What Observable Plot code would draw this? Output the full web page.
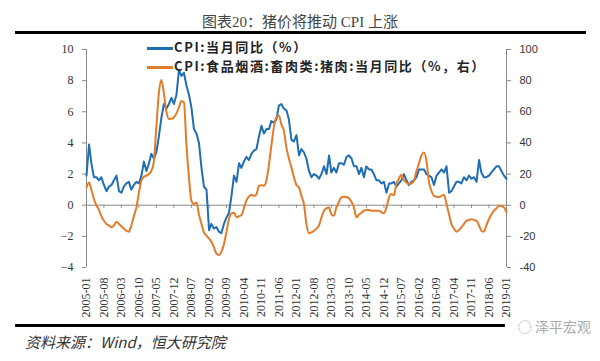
<!DOCTYPE html>
<html><head><meta charset="utf-8">
<script src="https://cdn.jsdelivr.net/npm/d3@7"></script>
<script src="https://cdn.jsdelivr.net/npm/@observablehq/plot@0.6"></script>
<style>
body{margin:0;background:#fff;}
#wrap{position:relative;width:600px;height:361px;overflow:hidden;background:#fff;}
#title{position:absolute;top:10px;left:0;width:600px;text-align:center;font-family:"Liberation Serif","Noto Sans CJK SC",serif;font-size:15px;color:#444;}
.rule{position:absolute;left:15px;width:571px;height:3px;background:#000;}
#chart{position:absolute;top:34px;left:0;}
.leg{position:absolute;left:147px;font-family:"Noto Sans CJK SC",sans-serif;font-weight:bold;font-size:13px;letter-spacing:1.6px;color:#222;white-space:nowrap;}
.leg span.sw{display:inline-block;width:26px;height:2.5px;vertical-align:middle;margin-right:1px;}
#src{position:absolute;top:331px;left:25px;font-family:"Noto Sans CJK SC",sans-serif;font-style:italic;font-size:15px;color:#333;}
#wm{position:absolute;top:318px;left:505px;width:86px;height:18px;line-height:16px;background:#fff;font-family:"Noto Sans CJK SC",sans-serif;font-size:14px;color:#aaa;text-align:right;}
</style></head>
<body><div id="wrap">
<div id="title">图表20：猪价将推动 CPI 上涨</div>
<div class="rule" style="top:31px"></div>
<div id="chart"></div>
<div class="leg" style="top:37px"><span class="sw" style="background:#1f6eb4"></span>CPI:当月同比（%）</div>
<div class="leg" style="top:56px"><span class="sw" style="background:#e27b2a"></span>CPI:食品烟酒:畜肉类:猪肉:当月同比（%，右）</div>
<div class="rule" style="top:324px"></div>
<div id="wm">◌ 泽平宏观</div>
<div id="src">资料来源：Wind，恒大研究院</div>
</div>
<script>
// CPI YoY (%), monthly 2005-01 .. 2019-01
const cpi = [
 1.9,3.9,2.7,1.8,1.8,1.6,1.8,1.3,0.9,1.2,1.3,1.6,
 1.9,0.9,0.8,1.2,1.4,1.5,1.0,1.3,1.5,1.4,1.9,2.8,
 2.2,2.7,3.3,3.0,3.4,4.4,5.6,6.5,6.2,6.5,6.9,6.5,
 7.1,8.7,8.3,8.5,7.7,7.1,6.3,4.9,4.6,4.0,2.4,1.2,
 1.0,-1.6,-1.2,-1.5,-1.4,-1.7,-1.8,-1.2,-0.8,-0.5,0.6,1.9,
 1.5,2.7,2.4,2.8,3.1,2.9,3.3,3.5,3.6,4.4,5.1,4.6,
 4.9,4.9,5.4,5.3,5.5,6.4,6.5,6.2,6.1,5.5,4.2,4.1,
 4.5,3.2,3.6,3.4,3.0,2.2,1.8,2.0,1.9,1.7,2.0,2.5,
 2.0,3.2,2.1,2.4,2.1,2.7,2.7,2.6,3.1,3.2,3.0,2.5,
 2.5,2.0,2.4,1.8,2.5,2.3,2.3,2.0,1.6,1.6,1.4,1.5,
 0.8,1.4,1.4,1.5,1.2,1.4,1.6,2.0,1.6,1.3,1.5,1.6,
 1.8,2.3,2.3,2.3,2.0,1.9,1.8,1.3,1.9,2.1,2.3,2.1,
 2.5,0.8,0.9,1.2,1.5,1.5,1.4,1.8,1.6,1.9,1.7,1.8,
 1.5,2.9,2.1,1.8,1.8,1.9,2.1,2.3,2.5,2.5,2.2,1.9,
 1.7
];
// Pork CPI YoY (%), right axis
const pork = [
 11.4,14.6,10,4,0,-3,-7,-10,-12,-13,-14.2,-13,
 -10.6,-12,-13.5,-15,-16.4,-17,-13,-7,-1.4,8,16,18.3,
 19,20,22,28,50,72,80.4,72,60,55.4,55.5,56.4,
 59,62.8,67,66,39.3,18,3,0.8,1.8,-6,-12,-17.5,
 -19.5,-21.5,-23.5,-27,-31,-32,-30,-25,-17,-9,-5.2,-4.8,
 -7.8,-7,-6.4,-2,2.9,5.5,6.7,6,7,12.5,12.8,12.5,
 16,26.4,38,50,56.4,57.6,52,47.8,37,30,24.3,18,
 13,11.4,6,0.8,-12,-18,-17.5,-16.4,-15,-13,-7.8,-3.5,
 -2,-1.4,-6,-6.7,-1.4,2,5,5.5,5.3,4.5,2,-1.4,
 -7.8,-6,-5,-3.5,-3,-3,-3.5,-3.5,-3.5,-3.5,-4.5,-5.2,
 -1.4,5,7.2,6.4,13.6,17,19.6,16,14.6,13.6,14,15.7,
 22,27,32,33.9,28.6,15,9.3,6,5.5,5.3,6,6.7,
 0.8,-6,-12,-15,-17,-16,-14.2,-12,-10,-9.5,-9,-9.5,
 -10,-13,-16.4,-17,-13,-9,-6,-3.5,-2,-0.3,-0.5,-1.4,
 -4.6
];
const tickLabels = ["2005-01","2005-08","2006-03","2006-10","2007-05","2007-12","2008-07","2009-02","2009-09","2010-04","2010-11","2011-06","2012-01","2012-08","2013-03","2013-10","2014-05","2014-12","2015-07","2016-02","2016-09","2017-04","2017-11","2018-06","2019-01"];
const leftTicks = [-4,-2,0,2,4,6,8,10];
const rightTicks = [-40,-20,0,20,40,60,80,100];

const parse = d3.utcParse("%Y-%m");
const start = parse("2005-01");
const months = cpi.map((_, i) => d3.utcMonth.offset(start, i));
const data = months.map((d, i) => ({date: d, cpi: cpi[i], pork: pork[i]}));
const tickDates = tickLabels.map(parse);

const chart = Plot.plot({
  width: 600, height: 289,
  marginLeft: 86, marginRight: 94, marginTop: 15, marginBottom: 56,
  x: {type: "utc", domain: [start, parse("2019-01")]},
  y: {domain: [-4, 10]},
  style: {background: "transparent", overflow: "visible"},
  marks: [
    Plot.ruleX([start, parse("2019-01")], {stroke: "#8a8a8a", strokeWidth: 1}),
    Plot.ruleY([0], {stroke: "#8a8a8a", strokeWidth: 1}),
    Plot.ruleX(tickDates, {x: d => d, y1: 0, y2: -0.2, stroke: "#8a8a8a"}),
    Plot.axisY(leftTicks, {anchor: "left", tickSize: 4, tickPadding: 9, stroke: "#8a8a8a", fontFamily: "Liberation Serif", fontSize: 12, fill: "#333", label: null}),
    Plot.axisY(rightTicks.map(d => d / 10), {anchor: "right", tickSize: 4, tickPadding: 9, stroke: "#8a8a8a", tickFormat: d => String(Math.round(d * 10)), fontFamily: "Liberation Sans", fontSize: 11, fill: "#333", label: null}),
    Plot.axisX(tickDates, {anchor: "bottom", tickSize: 0, tickPadding: 10, tickRotate: -90, tickFormat: d3.utcFormat("%Y-%m"), fontFamily: "Liberation Serif", fontSize: 12, fill: "#333", label: null}),
    Plot.line(data, {x: "date", y: "cpi", stroke: "#1f6eb4", strokeWidth: 2}),
    Plot.line(data, {x: "date", y: d => d.pork / 10, stroke: "#e27b2a", strokeWidth: 2, curve: "monotone-x"})
  ]
});
document.getElementById("chart").appendChild(chart);
</script>
</body></html>
